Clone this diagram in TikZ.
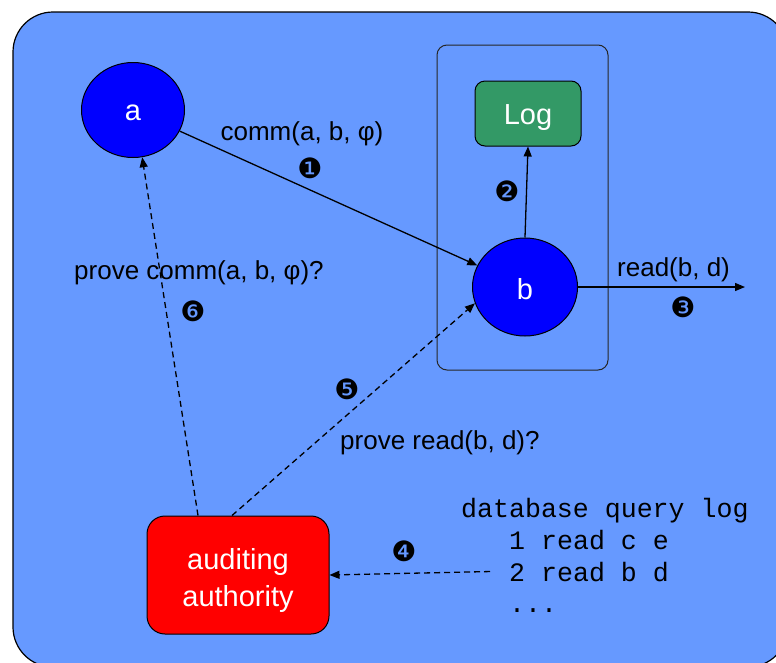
\documentclass[tikz,border=0pt]{standalone}
\usepackage{fontspec}
\setmainfont{Liberation Sans}
\setmonofont{Liberation Mono}
\newfontfamily\dingfont{DejaVu Sans}
\usetikzlibrary{arrows.meta,shapes.geometric}

\definecolor{panelblue}{HTML}{6699FF}
\definecolor{nodeblue}{HTML}{0000FF}
\definecolor{loggreen}{HTML}{339966}
\definecolor{authred}{HTML}{FF0000}

% lower a node's text without changing its box
\newcommand{\lowertext}[2]{\raisebox{-#1}[\height][\depth]{#2}}

\tikzset{
  party/.style={ellipse, draw=black, line width=1pt, fill=nodeblue, text=white,
    font=\fontsize{29}{35}\selectfont, inner sep=0pt},
  boxnode/.style={draw=black, line width=1pt, text=white, align=center,
    font=\fontsize{29}{37}\selectfont, inner sep=0pt},
  flow/.style={line width=1.3pt, -{Triangle[length=10pt,width=8pt]}},
  query/.style={flow, dash pattern=on 6pt off 4pt},
  lbl/.style={font=\fontsize{26}{30}\selectfont, inner sep=0pt},
  stepno/.style={font=\dingfont\fontsize{28}{30}\selectfont, inner sep=0pt},
  logline/.style={font=\ttfamily\fontsize{26.6}{30}\selectfont, inner sep=0pt, anchor=base west}
}

\begin{document}
\begin{tikzpicture}[x=1pt,y=-1pt]
\useasboundingbox (0,0) rectangle (776,662);

% panel
\draw[fill=panelblue, line width=1.2pt, rounded corners=40pt] (13,12) rectangle (788,667);

% host of b with its log
\node[draw=black!85, line width=1pt, rounded corners=10pt,
      minimum width=171pt, minimum height=325pt] (host) at (522.5,207.5) {};

% nodes
\node[party, minimum width=103pt, minimum height=95pt] (a) at (133,110) {\lowertext{3pt}{a}};
\node[party, minimum width=105pt, minimum height=98pt] (b) at (525,287) {\lowertext{2pt}{b}};
\node[boxnode, fill=loggreen, rounded corners=10pt,
      minimum width=106pt, minimum height=65pt] (log) at (528,113.5) {\lowertext{4pt}{Log}};
\node[boxnode, fill=authred, rounded corners=18pt,
      minimum width=182pt, minimum height=118pt] (aa) at (238,575)
      {\lowertext{6pt}{\begin{tabular}{@{}c@{}}auditing\\authority\end{tabular}}};

% database query log
\node[logline] (q0) at (461,517) {database query log};
\node[logline] (q1) at (509,549) {1 read c e};
\node[logline] (q2) at (509,581) {2 read b d};
\node[logline] (q3) at (509,612) {...};

\coordinate (outend) at (745,287);

% connectors
\draw[flow] (a) -- (b);
\draw[flow] (b.north) -- (log.south);
\draw[flow] (b) -- (outend);
\draw[query] ([xshift=-19pt]q2.west) -- (aa.east);
\draw[query] ([xshift=-6pt]aa.north) -- (b.198);
\draw[query] ([xshift=-40pt]aa.north) -- (a.281);

% labels
\node[lbl, anchor=base] (lcomm) at (302,140) {comm(a, b, φ)};
\node[lbl, anchor=base west] (lread) at (617,276) {read(b, d)};
\node[lbl, anchor=base west] (lpcomm) at (74,279) {prove comm(a, b, φ)?};
\node[lbl, anchor=base west] (lpread) at (340,449) {prove read(b, d)?};

% step numbers
\node[stepno] (s1) at (310,168) {❶};
\node[stepno] (s2) at (507,191) {❷};
\node[stepno] (s3) at (683,307) {❸};
\node[stepno] (s4) at (404,551) {❹};
\node[stepno] (s5) at (347,389) {❺};
\node[stepno] (s6) at (193,311) {❻};
\end{tikzpicture}
\end{document}
